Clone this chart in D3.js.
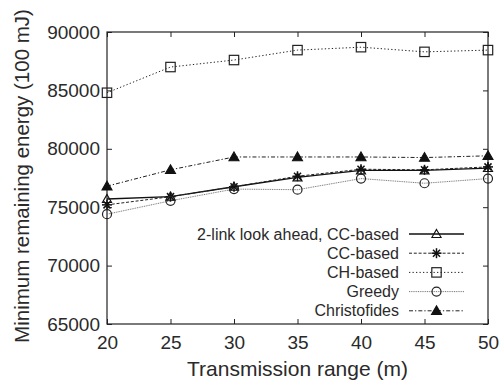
<!DOCTYPE html>
<html><head><meta charset="utf-8">
<script src="https://cdn.jsdelivr.net/npm/d3@7"></script>
<style>body{margin:0;background:#fff}svg{display:block}text{font-family:"Liberation Sans",Arial,sans-serif;fill:#2a2a2a}</style>
</head><body><svg id="c" width="499" height="384"></svg>
<script>
const ranges = [20, 25, 30, 35, 40, 45, 50];
const seriesNames = ["2-link look ahead, CC-based", "CC-based", "CH-based", "Greedy", "Christofides"];
const twoLink = [75700, 75900, 76750, 77550, 78150, 78150, 78350];
const ccBased = [75200, 75900, 76750, 77650, 78250, 78200, 78450];
const chBased = [84800, 87000, 87600, 88450, 88700, 88300, 88450];
const greedy = [74400, 75550, 76550, 76500, 77450, 77050, 77450];
const christofides = [76800, 78200, 79300, 79300, 79300, 79250, 79400];
const yTicks = [65000, 70000, 75000, 80000, 85000, 90000];
const xTicks = [20, 25, 30, 35, 40, 45, 50];

const svg = d3.select("#c");
const L = 107, R = 488, T = 32, B = 324;
const x = d3.scaleLinear().domain([20, 50]).range([L, R]);
const y = d3.scaleLinear().domain([65000, 90000]).range([B, T]);

const styles = [
  {data: twoLink, dash: null, marker: "tri", color: "#111", w: 1.3},
  {data: ccBased, dash: "3,1.8", marker: "star", color: "#222", w: 1},
  {data: chBased, dash: "1.3,2.2", marker: "square", color: "#222", w: 1},
  {data: greedy, dash: "1,0.8", marker: "circle", color: "#666", w: 0.9},
  {data: christofides, dash: "4,2,1.3,2", marker: "ftri", color: "#222", w: 1}
];

// frame
svg.append("rect").attr("x", L).attr("y", T).attr("width", R - L).attr("height", B - T)
  .attr("fill", "none").attr("stroke", "#222").attr("stroke-width", 1.2);

// axes
const axB = svg.append("g").attr("transform", `translate(0,${B})`)
  .call(d3.axisBottom(x).tickValues(xTicks).tickSize(-5).tickPadding(12).tickFormat(d3.format("d")));
const axT = svg.append("g").attr("transform", `translate(0,${T})`)
  .call(d3.axisTop(x).tickValues(xTicks).tickSize(-5).tickFormat(""));
const axL = svg.append("g").attr("transform", `translate(${L},0)`)
  .call(d3.axisLeft(y).tickValues(yTicks).tickSize(-5).tickPadding(7).tickFormat(d3.format("d")));
const axR = svg.append("g").attr("transform", `translate(${R},0)`)
  .call(d3.axisRight(y).tickValues(yTicks).tickSize(-5).tickFormat(""));
[axB, axT, axL, axR].forEach(g => {
  g.select(".domain").remove();
  g.selectAll("line").attr("stroke", "#222");
  g.selectAll("text").style("font-size", "19px").attr("fill", "#2a2a2a")
    .style("font-family", '"Liberation Sans",Arial,sans-serif');
});

// labels
svg.append("text").attr("x", (L + R) / 2 + 0).attr("y", 376).attr("text-anchor", "middle")
  .style("font-size", "21px").text("Transmission range (m)");
svg.append("text").attr("transform", "translate(29,176) rotate(-90)").attr("text-anchor", "middle")
  .style("font-size", "20.5px").text("Minimum remaining energy (100 mJ)");

function drawMarker(g, type, cx, cy, color) {
  if (type === "tri" || type === "ftri") {
    const s = type === "ftri" ? 5 : 4.6;
    g.append("path").attr("d", `M${cx},${cy - s}L${cx + s},${cy + s * 0.75}L${cx - s},${cy + s * 0.75}Z`)
      .attr("fill", type === "ftri" ? "#111" : "none").attr("stroke", "#111").attr("stroke-width", 1.1);
  } else if (type === "square") {
    g.append("rect").attr("x", cx - 4.7).attr("y", cy - 4.7).attr("width", 9.4).attr("height", 9.4)
      .attr("fill", "none").attr("stroke", "#222").attr("stroke-width", 1.2);
  } else if (type === "circle") {
    g.append("circle").attr("cx", cx).attr("cy", cy).attr("r", 4.5)
      .attr("fill", "none").attr("stroke", "#222").attr("stroke-width", 1.2);
  } else if (type === "star") {
    const s = 5;
    for (let k = 0; k < 4; k++) {
      const a = k * Math.PI / 4;
      g.append("line").attr("x1", cx - s * Math.cos(a)).attr("y1", cy - s * Math.sin(a))
        .attr("x2", cx + s * Math.cos(a)).attr("y2", cy + s * Math.sin(a))
        .attr("stroke", "#111").attr("stroke-width", 1.5);
    }
  }
}

const line = d3.line().x((d, i) => x(ranges[i])).y(d => y(d));
styles.forEach(st => {
  svg.append("path").datum(st.data).attr("d", line).attr("fill", "none")
    .attr("stroke", st.color).attr("stroke-width", st.w).attr("stroke-dasharray", st.dash);
});
styles.forEach(st => {
  const g = svg.append("g");
  st.data.forEach((v, i) => drawMarker(g, st.marker, x(ranges[i]), y(v), st.color));
});

// legend
const ly0 = 234, ldy = 19.2;
seriesNames.forEach((name, i) => {
  const st = styles[i];
  const yy = ly0 + i * ldy;
  const g = svg.append("g");
  g.append("text").attr("x", 399).attr("y", yy + 5.5).attr("text-anchor", "end").style("font-size", "16px").text(name);
  g.append("line").attr("x1", 409).attr("x2", 464).attr("y1", yy).attr("y2", yy)
    .attr("stroke", st.color).attr("stroke-width", st.w).attr("stroke-dasharray", st.dash);
  drawMarker(g, st.marker, 436.5, yy, st.color);
});
</script></body></html>
